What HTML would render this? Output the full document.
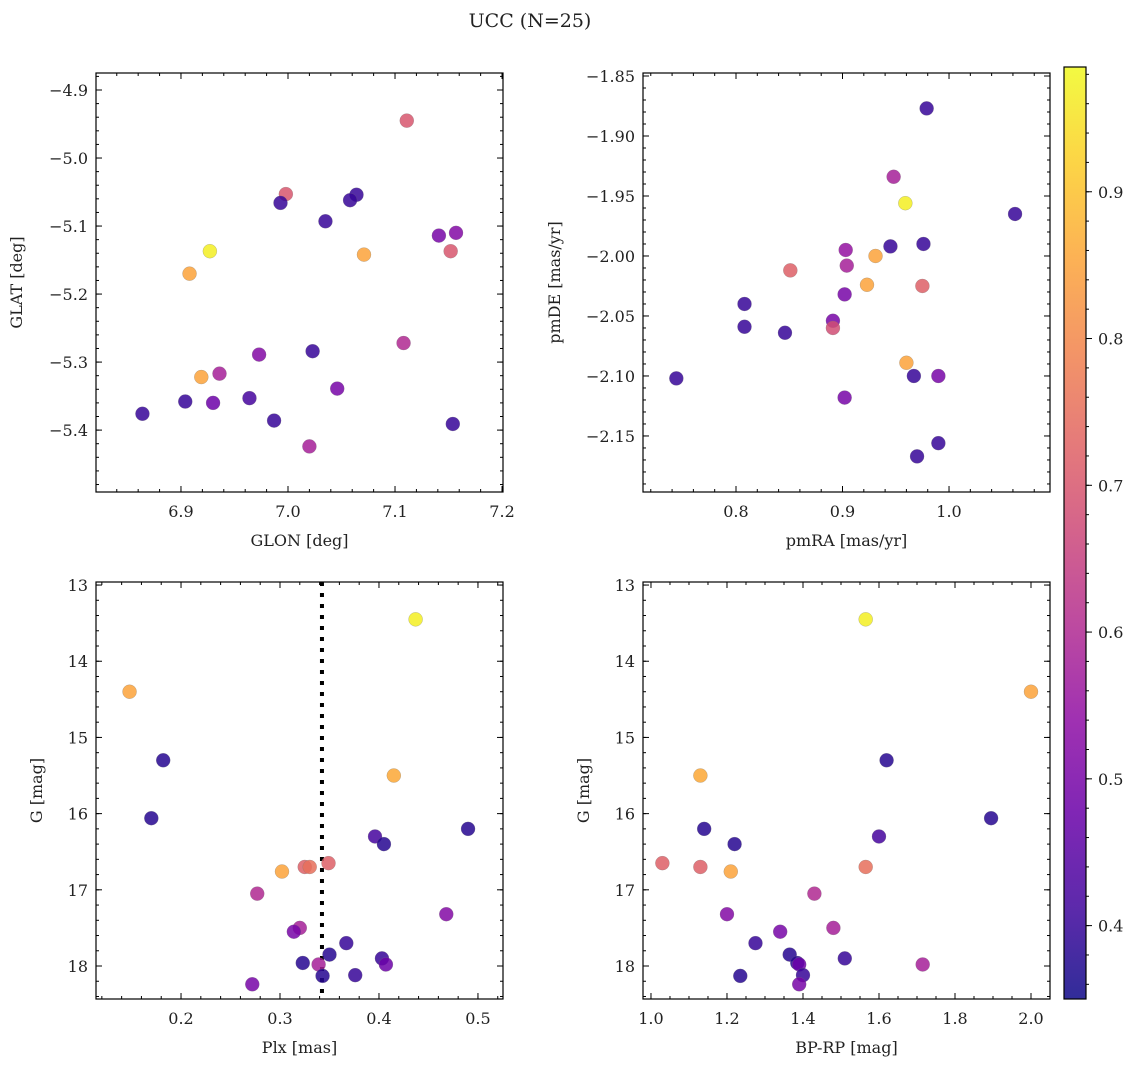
<!DOCTYPE html>
<html><head><meta charset="utf-8"><style>
body{margin:0;background:#fff;}
svg text{font-family:"DejaVu Serif","Liberation Serif",serif;fill:#222;}
</style></head><body>
<svg id="fig" width="1136" height="1067" xmlns="http://www.w3.org/2000/svg">
<defs><linearGradient id="plasma" x1="0" y1="1" x2="0" y2="0">
<stop offset="0" stop-color="#0d0887"/><stop offset="0.1" stop-color="#41049d"/><stop offset="0.2" stop-color="#6a00a8"/><stop offset="0.3" stop-color="#8f0da4"/><stop offset="0.4" stop-color="#b12a90"/><stop offset="0.5" stop-color="#cc4778"/><stop offset="0.6" stop-color="#e16462"/><stop offset="0.7" stop-color="#f2844b"/><stop offset="0.8" stop-color="#fca636"/><stop offset="0.9" stop-color="#fcce25"/><stop offset="1" stop-color="#f0f921"/></linearGradient></defs>
<text x="530" y="27" font-size="19" text-anchor="middle">UCC (N=25)</text>
</svg>
<script>
// Panel 1: GLON vs GLAT
const glon=[7.111,6.998,6.993,7.064,7.058,7.035,7.141,7.157,6.927,7.152,7.071,6.908,7.108,7.023,6.973,6.936,6.919,7.046,6.964,6.904,6.930,6.864,6.987,7.154,7.020];
const glat=[-4.945,-5.053,-5.066,-5.054,-5.062,-5.093,-5.114,-5.110,-5.137,-5.137,-5.142,-5.170,-5.272,-5.284,-5.289,-5.317,-5.322,-5.339,-5.353,-5.358,-5.360,-5.376,-5.386,-5.391,-5.424];
const prob1=[0.70,0.70,0.40,0.40,0.40,0.40,0.50,0.52,0.97,0.70,0.85,0.85,0.60,0.40,0.52,0.58,0.85,0.50,0.42,0.40,0.48,0.40,0.40,0.40,0.58];
// Panel 2: pmRA vs pmDE
const pmra=[0.979,0.948,0.959,1.062,0.945,0.976,0.903,0.931,0.904,0.851,0.923,0.975,0.902,0.808,0.891,0.891,0.808,0.846,0.960,0.967,0.990,0.744,0.902,0.990,0.970];
const pmde=[-1.877,-1.934,-1.956,-1.965,-1.992,-1.990,-1.995,-2.000,-2.008,-2.012,-2.024,-2.025,-2.032,-2.040,-2.054,-2.060,-2.059,-2.064,-2.089,-2.100,-2.100,-2.102,-2.118,-2.156,-2.167];
const prob2=[0.40,0.58,0.97,0.40,0.40,0.40,0.55,0.85,0.58,0.72,0.85,0.72,0.50,0.40,0.50,0.68,0.40,0.40,0.85,0.40,0.50,0.40,0.50,0.40,0.40];
// Panel 3 & 4: Plx, BP-RP vs G
const plx=[0.437,0.148,0.182,0.170,0.415,0.490,0.396,0.405,0.302,0.325,0.330,0.349,0.277,0.468,0.320,0.314,0.367,0.350,0.403,0.323,0.339,0.407,0.376,0.343,0.272];
const gmag=[13.45,14.40,15.30,16.06,15.50,16.20,16.30,16.40,16.76,16.70,16.70,16.65,17.05,17.32,17.50,17.55,17.70,17.85,17.90,17.96,17.98,17.98,18.12,18.13,18.24];
const bprp=[1.565,2.000,1.620,1.895,1.130,1.140,1.600,1.220,1.210,1.130,1.565,1.030,1.430,1.200,1.480,1.340,1.275,1.365,1.510,1.385,1.715,1.390,1.400,1.235,1.390];
const prob3=[0.97,0.85,0.38,0.38,0.86,0.38,0.42,0.38,0.85,0.72,0.75,0.72,0.60,0.52,0.58,0.50,0.40,0.38,0.40,0.38,0.58,0.48,0.40,0.38,0.50];
const plxLine=0.3424;
const cbTicks=[0.4,0.5,0.6,0.7,0.8,0.9];

const NS="http://www.w3.org/2000/svg";
const svg=document.getElementById('fig');
function el(t,a,p){const e=document.createElementNS(NS,t);for(const k in a)e.setAttribute(k,a[k]);(p||svg).appendChild(e);return e;}
const stops=[[0,[13,8,135]],[.1,[65,4,157]],[.2,[106,0,168]],[.3,[143,13,164]],[.4,[177,42,144]],[.5,[204,71,120]],[.6,[225,100,98]],[.7,[242,132,75]],[.8,[252,166,54]],[.9,[252,206,37]],[1,[240,249,33]]];
const cmin=0.35,cmax=0.985;
function cmap(v){let t=(v-cmin)/(cmax-cmin);t=Math.max(0,Math.min(1,t));
 for(let i=0;i<stops.length-1;i++){const a=stops[i],b=stops[i+1];if(t<=b[0]){const f=(t-a[0])/(b[0]-a[0]);const c=a[1].map((x,j)=>Math.round(x+(b[1][j]-x)*f));return `rgb(${c})`;}}return 'rgb(240,249,33)';}
function fmt(v,d){return (v<0?'\u2212':'')+Math.abs(v).toFixed(d);}

function panel(o){
 const {name,L,T,R,B,xmin,xmax,ymin,ymax,invertY}=o;
 const g=el('g',{});
 const sx=v=>L+(v-xmin)/(xmax-xmin)*(R-L);
 const sy=invertY?(v=>T+(v-ymin)/(ymax-ymin)*(B-T)):(v=>B-(v-ymin)/(ymax-ymin)*(B-T));
 const tk=(vals,len,isX,lab,dec)=>{for(const v of vals){
   if(isX){const x=sx(v);if(x<L-0.5||x>R+0.5)continue;
     el('line',{x1:x,y1:B,x2:x,y2:B-len,stroke:'#000','stroke-width':1},g);
     el('line',{x1:x,y1:T,x2:x,y2:T+len,stroke:'#000','stroke-width':1},g);
     if(lab){const t=el('text',{x:x,y:B+25,'font-size':16,'text-anchor':'middle'},g);t.textContent=fmt(v,dec);}
   }else{const y=sy(v);if(y<T-0.5||y>B+0.5)continue;
     el('line',{x1:L,y1:y,x2:L+len,y2:y,stroke:'#000','stroke-width':1},g);
     el('line',{x1:R,y1:y,x2:R-len,y2:y,stroke:'#000','stroke-width':1},g);
     if(lab){const t=el('text',{x:L-8,y:y+6,'font-size':16,'text-anchor':'end'},g);t.textContent=fmt(v,dec);}
   }}};
 const rng=(a,b,s)=>{const r=[];const n=Math.round((b-a)/s);for(let i=0;i<=n;i++)r.push(+(a+i*s).toFixed(6));return r;};
 tk(rng(o.xmj[0],o.xmj[1],o.xmj[2]),6,true,true,o.xd);
 tk(rng(o.xmn[0],o.xmn[1],o.xmn[2]),3,true,false);
 tk(rng(o.ymj[0],o.ymj[1],o.ymj[2]),6,false,true,o.yd);
 tk(rng(o.ymn[0],o.ymn[1],o.ymn[2]),3,false,false);
 if(o.vline!==undefined){const l=el('line',{x1:sx(o.vline),y1:T,x2:sx(o.vline),y2:B,stroke:'#000','stroke-width':4,'stroke-dasharray':'4 7'},g);}
 for(let i=0;i<o.xs.length;i++){
   const c=el('circle',{cx:sx(o.xs[i]),cy:sy(o.ys[i]),r:7,fill:cmap(o.cs[i]),'fill-opacity':0.85,stroke:'#777','stroke-width':0.4,'stroke-opacity':0.6},g);
   
   
 }
 el('rect',{x:L,y:T,width:R-L,height:B-T,fill:'none',stroke:'#000','stroke-width':1.2},g);
 const xl=el('text',{x:(L+R)/2,y:B+54,'font-size':16,'text-anchor':'middle'},g);xl.textContent=o.xlabel;
 const yx=o.ylx,yy=(T+B)/2;const yl=el('text',{x:yx,y:yy,'font-size':16,'text-anchor':'middle',transform:`rotate(-90 ${yx} ${yy})`},g);yl.textContent=o.ylabel;
}
panel({name:'glon-glat-panel',L:96,T:73,R:503,B:492,xmin:6.8206,xmax:7.2009,ymin:-5.491,ymax:-4.875,xmj:[6.9,7.2,0.1],xmn:[6.84,7.2,0.02],ymj:[-5.4,-4.9,0.1],ymn:[-5.48,-4.88,0.02],xd:1,yd:1,xs:glon,ys:glat,cs:prob1,xlabel:'GLON [deg]',ylabel:'GLAT [deg]',ylx:22});
panel({name:'pmra-pmde-panel',L:643,T:73,R:1050,B:492,xmin:0.7127,xmax:1.0948,ymin:-2.1967,ymax:-1.8475,xmj:[0.8,1.0,0.1],xmn:[0.72,1.08,0.02],ymj:[-2.15,-1.85,0.05],ymn:[-2.19,-1.85,0.01],xd:1,yd:2,xs:pmra,ys:pmde,cs:prob2,xlabel:'pmRA [mas/yr]',ylabel:'pmDE [mas/yr]',ylx:560});
panel({name:'plx-g-panel',L:96,T:582,R:503,B:999,xmin:0.1141,xmax:0.5253,ymin:12.96,ymax:18.433,invertY:true,xmj:[0.2,0.5,0.1],xmn:[0.12,0.52,0.02],ymj:[13,18,1],ymn:[13,18.4,0.2],xd:1,yd:0,xs:plx,ys:gmag,cs:prob3,xlabel:'Plx [mas]',ylabel:'G [mag]',ylx:42,vline:plxLine});
panel({name:'bprp-g-panel',L:643,T:582,R:1050,B:999,xmin:0.979,xmax:2.05,ymin:12.96,ymax:18.433,invertY:true,xmj:[1.0,2.0,0.2],xmn:[1.0,2.05,0.05],ymj:[13,18,1],ymn:[13,18.4,0.2],xd:1,yd:0,xs:bprp,ys:gmag,cs:prob3,xlabel:'BP-RP [mag]',ylabel:'G [mag]',ylx:589});
const cb=el('g',{});
const cT=67,cB=999,cL=1064,cR=1086;
el('rect',{x:cL,y:cT,width:cR-cL,height:cB-cT,fill:'url(#plasma)','fill-opacity':0.85},cb);
el('rect',{x:cL,y:cT,width:cR-cL,height:cB-cT,fill:'none',stroke:'#000','stroke-width':1.2},cb);
const cy=v=>cB-(v-cmin)/(cmax-cmin)*(cB-cT);
for(let v=0.36;v<0.985;v+=0.02){el('line',{x1:cR,y1:cy(v),x2:cR+3,y2:cy(v),stroke:'#000'},cb);}
for(const v of cbTicks){el('line',{x1:cR,y1:cy(v),x2:cR+6,y2:cy(v),stroke:'#000'},cb);
 const t=el('text',{x:cR+12,y:cy(v)+6,'font-size':16},cb);t.textContent=v.toFixed(1);}
</script>
</body></html>
